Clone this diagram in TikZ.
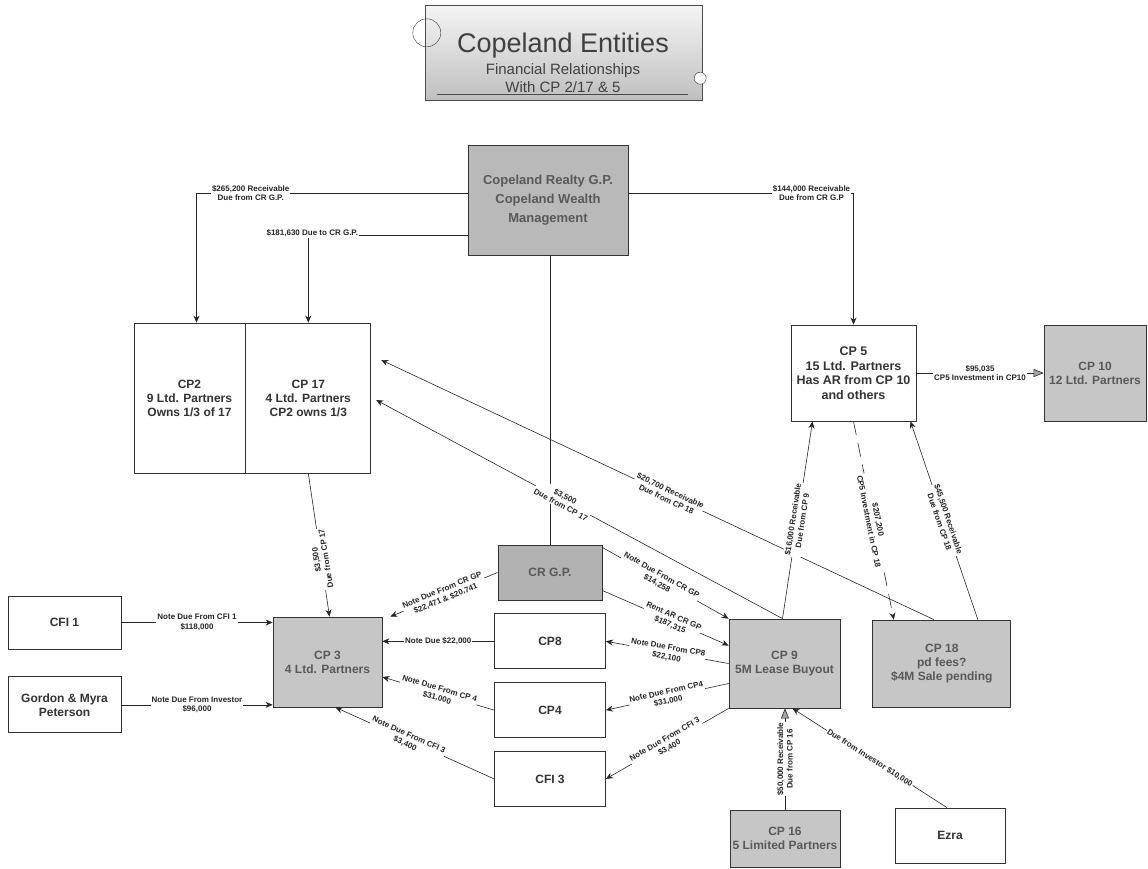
\documentclass[tikz,border=0pt]{standalone}
\usepackage{fontspec}
\setmainfont{Liberation Sans}
\usetikzlibrary{positioning,arrows.meta}
\tikzset{
  ent/.style={draw=black!80, line width=0.8pt, fill=white, align=center,
              font=\bfseries\fontsize{12}{14}\selectfont, text=black!80, inner sep=2pt},
  entd/.style={ent, fill=gray!45, text=black!65},
  lbl/.style={font=\bfseries\fontsize{8}{9.5}\selectfont, fill=white, inner sep=1pt,
              align=center, text=black!85},
  fa/.style={-{Stealth[length=7pt,width=6pt]}, black!85, line width=0.6pt},
  fg/.style={-{Triangle[length=10pt,width=8pt,fill=gray!70]}, black!85, line width=0.6pt}
}
\begin{document}
\begin{tikzpicture}[x=1pt, y=-1pt, node distance=13pt]
  \useasboundingbox (0,0) rectangle (1148,868);
  \node[draw=black!70, top color=gray!8, bottom color=gray!50, minimum width=277pt,
        minimum height=95pt, inner sep=0pt] (title) at (563.5,52.5) {};
  \node[anchor=base, font=\fontsize{27}{30}\selectfont, text=black!75] (ttl) at (563,52) {Copeland Entities};
  \node[anchor=base, font=\fontsize{15}{17}\selectfont, text=black!75] (sub1) at (563,74) {Financial Relationships};
  \node[anchor=base, font=\fontsize{15}{17}\selectfont, text=black!75] (sub2) at (563,92) {With CP 2/17 \& 5};
  \draw[black!70] ([xshift=12pt,yshift=6pt]title.south west) -- ([xshift=-14pt,yshift=6pt]title.south east);
  \draw[black!80] ([xshift=2pt,yshift=-28pt]title.north west) circle[radius=14pt];
  \draw[black!80, fill=white] ([xshift=-2pt,yshift=22pt]title.south east) circle[radius=6pt];

  \node[entd, fill=gray!55, minimum width=160pt, minimum height=110pt,
        font=\bfseries\fontsize{13}{19}\selectfont] (crealty) at (548,200) {Copeland Realty G.P.\\Copeland Wealth\\Management};
  \node[ent, minimum width=111pt, minimum height=150pt] (cp2) at (189.5,398) {CP2\\9 Ltd. Partners\\Owns 1/3 of 17};
  \node[ent, minimum width=125pt, minimum height=150pt, right=0pt of cp2] (cp17) {CP 17\\4 Ltd. Partners\\CP2 owns 1/3};
  \node[ent, minimum width=125pt, minimum height=96pt,
        font=\bfseries\fontsize{12.5}{14.5}\selectfont] (cp5) at (853.5,373) {CP 5\\15 Ltd. Partners\\Has AR from CP 10\\and others};
  \node[entd, minimum width=102pt, minimum height=96pt] (cp10) at (1095,373) {CP 10\\12 Ltd. Partners};
  \node[entd, fill=gray!60, minimum width=104pt, minimum height=55pt] (crgp) at (550,572.5) {CR G.P.};
  \node[ent, minimum width=111pt, minimum height=55pt, below=of crgp] (cp8) {CP8};
  \node[ent, minimum width=111pt, minimum height=55pt, below=of cp8] (cp4) {CP4};
  \node[ent, minimum width=111pt, minimum height=55pt, below=of cp4] (cfi3) {CFI 3};
  \node[entd, minimum width=109pt, minimum height=90pt] (cp3) at (327.5,662) {CP 3\\4 Ltd. Partners};
  \node[ent, minimum width=113pt, minimum height=53pt] (cfi1) at (64.5,622.5) {CFI 1};
  \node[ent, minimum width=113pt, minimum height=56pt, below=27pt of cfi1] (gordon) {Gordon \& Myra\\Peterson};
  \node[entd, minimum width=111pt, minimum height=89pt] (cp9) at (784.5,663.5) {CP 9\\5M Lease Buyout};
  \node[entd, minimum width=138pt, minimum height=87pt, right=32pt of cp9] (cp18) {CP 18\\pd fees?\\\$4M Sale pending};
  \node[entd, minimum width=110pt, minimum height=57pt] (cp16) at (785,838.5) {CP 16\\5 Limited Partners};
  \node[ent, minimum width=110pt, minimum height=55pt] (ezra) at (950,835.5) {Ezra};

  \draw[fa] ([yshift=7pt]crealty.west) -| node[lbl, pos=0.4]{\$265,200 Receivable\\Due from CR G.P.} ([xshift=7pt]cp2.north);
  \draw[fa] ([yshift=-35pt]crealty.west) -| node[lbl, pos=0.5, xshift=4pt, yshift=2pt]{\$181,630 Due to CR G.P.} (cp17.north);
  \draw[fa] ([yshift=7pt]crealty.east) -| node[lbl, pos=0.5, xshift=-42pt]{\$144,000 Receivable\\Due from CR G.P} (cp5.north);
  \draw[black!85, line width=0.6pt] (crgp.north |- crealty.south) -- (crgp.north);

  \draw[fa] ([xshift=-8pt]cp18.north) -- node[lbl, sloped, pos=0.48]{\$20,700 Receivable\\Due from CP 18} ([xshift=10pt,yshift=38pt]cp17.east);
  \draw[fa] ([xshift=-2pt]cp9.north) -- node[lbl, sloped, pos=0.54]{\$3,500\\Due from CP 17} ([xshift=5pt,yshift=-2pt]cp17.east);
  \draw[fa] ([xshift=-2pt]cp9.north) -- node[lbl, sloped]{\$16,000 Receivable\\Due from CP 9} ([xshift=-41pt]cp5.south);
  \draw[fa, dash pattern=on 14pt off 8pt] (cp5.south) -- node[lbl, sloped]{\$207,200\\CP5 Investment in CP 18} ([xshift=-48pt]cp18.north);
  \draw[fa] ([xshift=36pt]cp18.north) -- node[lbl, sloped]{\$45,500 Receivable\\Due from CP 18} ([xshift=57pt]cp5.south);
  \draw[fg] (cp5.east) -- node[lbl]{\$95,035\\CP5 Investment in CP10} (cp10.west);

  \draw[fa] (cp17.south) -- node[lbl, pos=0.6, rotate=99]{\$3,500\\Due from CP 17} ([xshift=2pt]cp3.north);
  \draw[fa] (cfi1.east) -- node[lbl]{Note Due From CFI 1\\\$118,000} (cfi1.east -| cp3.west);
  \draw[fa] (gordon.east) -- node[lbl]{Note Due From Investor\\\$96,000} (gordon.east -| cp3.west);
  \draw[fa] (crgp.west) -- node[lbl, sloped]{Note Due From CR GP\\\$22,471 \& \$20,741} ([xshift=8pt]cp3.north east);
  \draw[fa] (cp8.west) -- node[lbl]{Note Due \$22,000} (cp8.west -| cp3.east);
  \draw[fa] (cp4.west) -- node[lbl, sloped]{Note Due From CP 4\\\$31,000} ([yshift=-15pt]cp3.east);
  \draw[fa] (cfi3.west) -- node[lbl, sloped, pos=0.55]{Note Due From CFI 3\\\$3,400} ([xshift=8pt]cp3.south);

  \draw[fa] ([yshift=25pt]crgp.east) -- node[lbl, sloped, pos=0.45]{Note Due From CR GP\\\$14,258} (cp9.north west);
  \draw[fa] ([yshift=-18pt]crgp.east) -- node[lbl, sloped, pos=0.55]{Rent AR CR GP\\\$187,315} ([yshift=18pt]cp9.west);
  \draw[fa] (cp9.west) -- node[lbl, sloped]{Note Due From CP8\\\$22,100} (cp8.east);
  \draw[fa] ([yshift=-20pt]cp9.west) -- node[lbl, sloped]{Note Due From CP4\\\$31,000} (cp4.east);
  \draw[fa] (cp9.south west) -- node[lbl, sloped]{Note Due From CFI 3\\\$3,400} (cfi3.east);
  \draw[fg] (cp16.north) -- node[lbl, rotate=90]{\$50,000 Receivable\\Due from CP 16} (cp16.north |- cp9.south);
  \draw[fa] ([xshift=-3pt]ezra.north) -- node[lbl, sloped]{Due from Investor \$10,000} ([xshift=8pt]cp9.south);
\end{tikzpicture}
\end{document}
